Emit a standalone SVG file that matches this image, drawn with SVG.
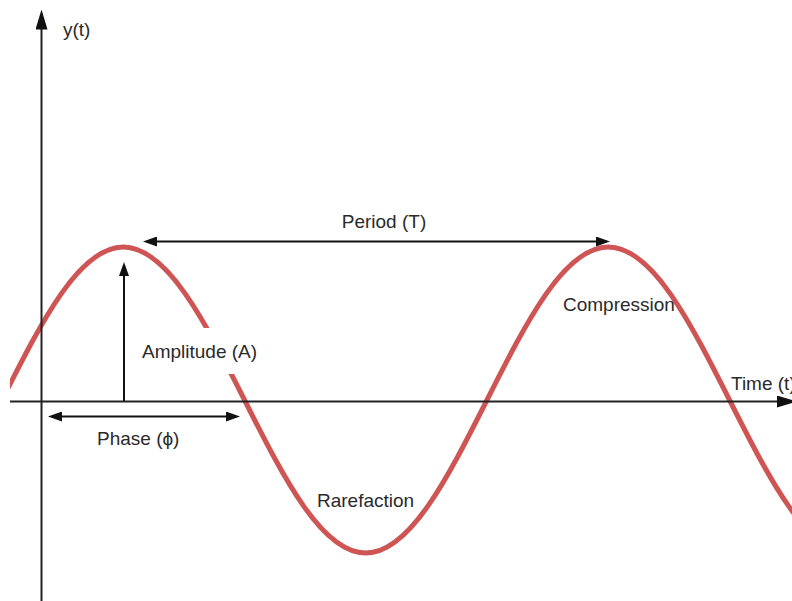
<svg xmlns="http://www.w3.org/2000/svg" width="792" height="601" viewBox="0 0 792 601">
  <style>
    .axis { stroke: #222; stroke-width: 2; fill: none; }
    .dim { stroke: #111; stroke-width: 2; fill: none; }
    .wave { stroke: #cf5454; stroke-width: 5; fill: none; }
    .lbl { font-family: "Liberation Sans", Arial, sans-serif; font-size: 19px; fill: #2a2a2a; }
  </style>
  <defs>
    <marker id="arr" markerUnits="userSpaceOnUse" markerWidth="14" markerHeight="10" refX="4" refY="5" orient="auto-start-reverse">
      <path d="M0,0 L14,5 L0,10 z" fill="#111"/>
    </marker>
    <marker id="arrAxis" markerUnits="userSpaceOnUse" markerWidth="20" markerHeight="12" refX="10" refY="6" orient="auto-start-reverse">
      <path d="M0,0 L20,6 L0,12 z" fill="#111"/>
    </marker>
    <clipPath id="plot">
      <rect x="10" y="0" width="782" height="601"/>
    </clipPath>
  </defs>

  <g id="wave">
    <path class="wave" clip-path="url(#plot)" d="M 2 400 C 41.54 321.62, 79.37 247, 123.25 247 C 167.13 247, 204.96 321.62, 244.5 400 C 284.04 478.38, 321.87 553, 365.75 553 C 409.63 553, 447.46 478.38, 487 400 C 526.54 321.62, 564.37 247, 608.25 247 C 652.13 247, 689.96 321.62, 729.5 400 C 769.04 478.38, 806.87 553, 850.75 553"/>
  </g>

  <g id="connectors">
    <line id="y-axis" class="axis" x1="41.5" y1="601" x2="41.5" y2="19.5" marker-end="url(#arrAxis)"/>
    <line id="x-axis" class="axis" x1="10" y1="401.5" x2="787" y2="401.5" marker-end="url(#arrAxis)"/>
    <line id="amplitude-arrow" class="dim" x1="124" y1="401" x2="124" y2="272" marker-end="url(#arr)"/>
    <line id="period-arrow" class="dim" x1="153" y1="241.5" x2="600" y2="241.5" marker-start="url(#arr)" marker-end="url(#arr)"/>
    <line id="phase-arrow" class="dim" x1="58" y1="416.5" x2="230" y2="416.5" marker-start="url(#arr)" marker-end="url(#arr)"/>
  </g>

  <g id="label-y">
    <text class="lbl" x="63" y="36">y(t)</text>
  </g>
  <g id="label-period">
    <text class="lbl" x="384" y="228" text-anchor="middle">Period (T)</text>
  </g>
  <g id="label-amplitude">
    <rect x="138" y="328" width="124" height="46" fill="#fff"/>
    <text class="lbl" x="142" y="358">Amplitude (A)</text>
  </g>
  <g id="label-phase">
    <text class="lbl" x="97" y="445">Phase (ϕ)</text>
  </g>
  <g id="label-compression">
    <text class="lbl" x="563" y="311">Compression</text>
  </g>
  <g id="label-rarefaction">
    <text class="lbl" x="317" y="507">Rarefaction</text>
  </g>
  <g id="label-time">
    <text class="lbl" x="731" y="390">Time (t)</text>
  </g>
</svg>
